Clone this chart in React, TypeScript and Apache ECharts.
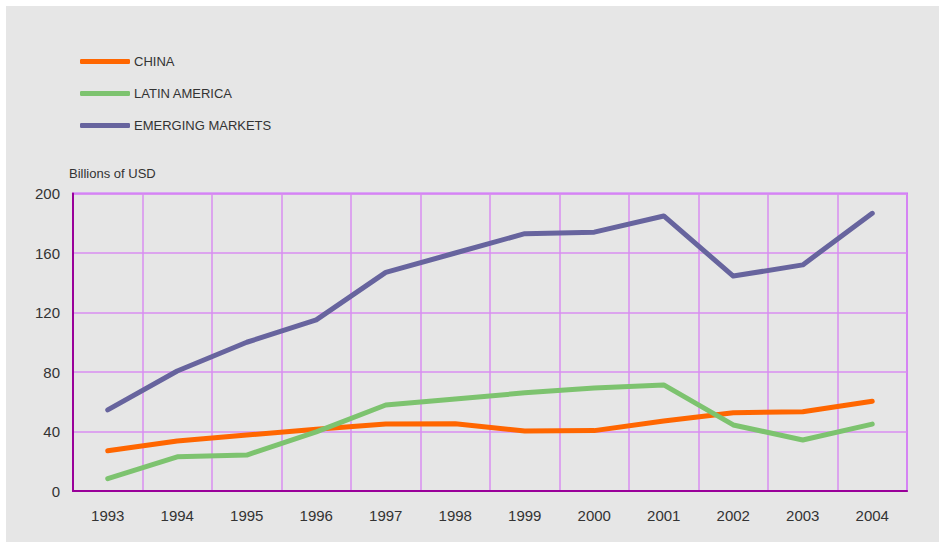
import React, { useEffect, useRef } from "react";
import * as echarts from "echarts";

const years = ["1993", "1994", "1995", "1996", "1997", "1998", "1999", "2000", "2001", "2002", "2003", "2004"];
const china = [27, 33.6, 37.6, 41.5, 45, 45.2, 40.3, 40.6, 47, 52.6, 53.3, 60.3];
const latinAmerica = [8.3, 23, 24.2, 39.7, 57.8, 61.8, 66, 69.2, 71.3, 44.4, 34.3, 45];
const emergingMarkets = [54.5, 80.7, 100, 115, 147, 160, 173, 174, 184.9, 144.5, 152, 186.7];
const seriesNames = ["CHINA", "LATIN AMERICA", "EMERGING MARKETS"];
const seriesColors = ["#ff6600", "#7dc36f", "#67649e"];
const yTicks = { min: 0, max: 200, interval: 40 };

export default function App() {
  const ref = useRef<HTMLDivElement>(null);
  useEffect(() => {
    if (!ref.current) return;
    const chart = echarts.init(ref.current, undefined, { renderer: "svg" });
    const font = "'Liberation Sans', Arial, Helvetica, sans-serif";
    const data = [china, latinAmerica, emergingMarkets];
    chart.setOption({
      animation: false,
      backgroundColor: "transparent",
      textStyle: { fontFamily: font },
      grid: {
        left: 73,
        right: 32,
        top: 193.5,
        bottom: 51,
        show: true,
        borderColor: "#cc66ff",
        borderWidth: 2,
        backgroundColor: "transparent",
      },
      legend: {
        orient: "vertical",
        left: 80,
        top: 52.6,
        padding: 0,
        itemWidth: 50,
        itemHeight: 5,
        itemGap: 14,
        icon: "roundRect",
        data: seriesNames,
        textStyle: { fontSize: 13, color: "#333", fontFamily: font, lineHeight: 14, padding: [4, 0, 0, -1] },
      },
      graphic: [
        {
          type: "text",
          left: 69,
          top: 166.5,
          style: { text: "Billions of USD", fontSize: 13, fill: "#333", fontFamily: font },
        },
      ],
      xAxis: {
        type: "category",
        data: years,
        boundaryGap: true,
        axisTick: { show: false },
        axisLine: { show: true, lineStyle: { color: "#990099", width: 2 } },
        axisLabel: { fontSize: 15, color: "#333", margin: 17, fontFamily: font },
        splitLine: { show: true, lineStyle: { color: "#d88ef0", width: 1.5 } },
      },
      yAxis: {
        type: "value",
        min: yTicks.min,
        max: yTicks.max,
        interval: yTicks.interval,
        axisTick: { show: false },
        axisLine: { show: true, lineStyle: { color: "#990099", width: 2 } },
        axisLabel: { fontSize: 15, color: "#333", margin: 13, fontFamily: font },
        splitLine: { show: true, lineStyle: { color: "#d88ef0", width: 1.5 } },
      },
      series: seriesNames.map((name, i) => ({
        name,
        type: "line",
        data: data[i],
        symbol: "none",
        color: seriesColors[i],
        lineStyle: { width: 5, color: seriesColors[i], cap: "round", join: "round" },
      })),
    });
    return () => chart.dispose();
  }, []);
  return (
    <div style={{ position: "fixed", left: 0, top: 0, width: 939, height: 542, background: "#ffffff" }}>
      <div style={{ position: "absolute", left: 6, top: 6, width: 933, height: 536, background: "#e6e6e6" }} />
      <div ref={ref} style={{ position: "absolute", left: 0, top: 0, width: 939, height: 542 }} />
    </div>
  );
}
